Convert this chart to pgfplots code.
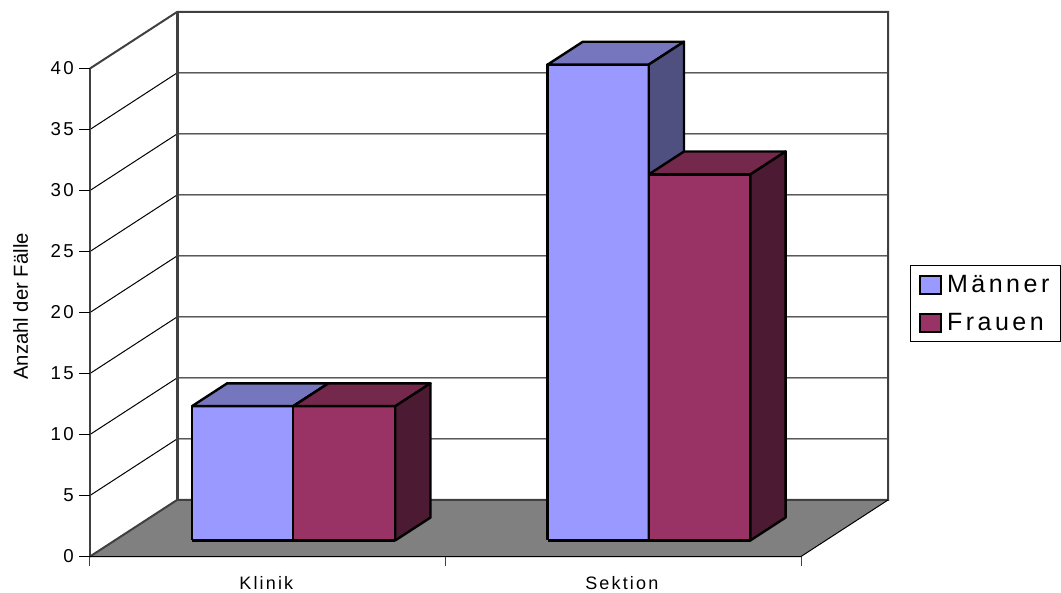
\documentclass[border=0pt]{standalone}
\usepackage{pgfplots}
\pgfplotsset{compat=1.18}
\usepackage{fontspec}
\setmainfont{Liberation Sans}
\newfontfamily\spaced[LetterSpace=12]{Liberation Sans}
\newfontfamily\legendfont[LetterSpace=14]{Liberation Sans}
\definecolor{men}{HTML}{9999FF}
\definecolor{mentop}{HTML}{7676BE}
\definecolor{menside}{HTML}{4F4F80}
\definecolor{women}{HTML}{993366}
\definecolor{womentop}{HTML}{73284C}
\definecolor{womenside}{HTML}{4D1A33}
\definecolor{framegray}{HTML}{404040}
\definecolor{floorgray}{HTML}{808080}
\newlength{\px}\setlength{\px}{0.75pt}
% one cuboid: x from #1 to #2, height #3, face colours #4 #5 #6
\newcommand{\cuboid}[6]{%
  \addplot3[forget plot,fill=#4,draw=black,line width=2.4\px,line join=round] coordinates
    {(#1,0.285,0) (#2,0.285,0) (#2,0.285,#3) (#1,0.285,#3) (#1,0.285,0)};
  \addplot3[forget plot,fill=#5,draw=black,line width=2.4\px,line join=round] coordinates
    {(#1,0.285,#3) (#2,0.285,#3) (#2,0.69,#3) (#1,0.69,#3) (#1,0.285,#3)};
  \addplot3[forget plot,fill=#6,draw=black,line width=2.4\px,line join=round] coordinates
    {(#2,0.285,0) (#2,0.69,0) (#2,0.69,#3) (#2,0.285,#3) (#2,0.285,0)};
}
\begin{document}
\begin{tikzpicture}[x=1pt,y=1pt]
\path[use as bounding box] (0,0) rectangle (1061\px,593\px);
\begin{axis}[
  at={(90\px,36.5\px)},anchor=origin,
  x={(355.5\px,0pt)},y={(87\px,56.5\px)},z={(0pt,12.2\px)},
  xmin=0,xmax=2,ymin=0,ymax=1,zmin=0,zmax=40,
  hide axis,clip=false,
  legend style={at={(axis cs:2.73,0,20.7)},anchor=east,draw=black,line width=1\px,
    font=\fontsize{18.75pt}{22pt}\selectfont\legendfont,
    inner xsep=8\px,inner ysep=7\px,row sep=13\px,
    legend cell align=left,
    /tikz/every even column/.append style={column sep=0pt}},
  legend image code/.code={%
    \draw[#1,line width=2.4\px] (0pt,-9\px) rectangle (21\px,9\px);
    \path (24\px,0pt);},
]
% floor
\addplot3[forget plot,fill=floorgray,draw=none] coordinates {(0,0,0) (2,0,0) (2,1,0) (0,1,0) (0,0,0)};
% gridlines on the side and back walls
\foreach \v in {5,10,...,35}{%
  \edef\temp{\noexpand\addplot3[forget plot,black,line width=1\px] coordinates {(0,0,\v) (0,1,\v) (2,1,\v)};}\temp
}
% wall frame
\addplot3[forget plot,framegray,line width=2\px] coordinates {(0,0,40) (0,1,40) (2,1,40) (2,1,0) (0,1,0) (0,0,0)};
\addplot3[forget plot,framegray,line width=3\px] coordinates {(0,1,40) (0,1,0)};
\addplot3[forget plot,framegray,line width=2\px] coordinates {(0,0,0) (0,0,40)};
\addplot3[forget plot,black,line width=1\px] coordinates {(0,0,0) (2,0,0) (2,1,0)};
% axis ticks
\foreach \v in {0,5,...,40}{%
  \edef\temp{\noexpand\addplot3[forget plot,black,line width=1\px] coordinates {(-0.03,0,\v) (0,0,\v)};
    \noexpand\node[anchor=east,inner sep=0pt,font=\noexpand\fontsize{14pt}{16pt}\noexpand\selectfont\noexpand\spaced] at (axis cs:-0.045,0,\v) {\v};}\temp
}
\foreach \v in {0,1,2}{%
  \edef\temp{\noexpand\addplot3[forget plot,framegray,line width=1\px] coordinates {(\v,0,0) (\v,0,-0.8)};}\temp
}
\node[inner sep=0pt,font=\fontsize{13.5pt}{16pt}\selectfont\spaced] at (axis cs:0.496,0,-2.2) {Klinik};
\node[inner sep=0pt,font=\fontsize{13.5pt}{16pt}\selectfont\spaced] at (axis cs:1.496,0,-2.2) {Sektion};
\node[inner sep=0pt,rotate=90,font=\fontsize{15.2pt}{18pt}\selectfont] at (axis cs:-0.195,0,20.5) {Anzahl der Fälle};
% bars: Männer and Frauen per category
\cuboid{0.217}{0.502}{11}{men}{mentop}{menside}
\cuboid{0.502}{0.789}{11}{women}{womentop}{womenside}
\cuboid{1.2175}{1.502}{39}{men}{mentop}{menside}
\cuboid{1.502}{1.788}{30}{women}{womentop}{womenside}
\addlegendimage{fill=men,draw=black}
\addlegendentry{Männer\hspace{2\px}}
\addlegendimage{fill=women,draw=black}
\addlegendentry{Frauen\hspace{2\px}}
\end{axis}
\end{tikzpicture}
\end{document}
